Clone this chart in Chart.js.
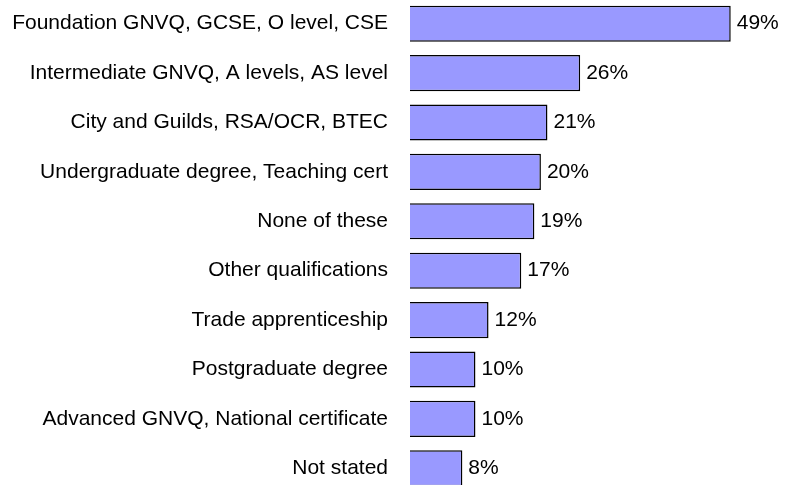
<!DOCTYPE html>
<html>
<head>
<meta charset="utf-8">
<script src="https://cdn.jsdelivr.net/npm/chart.js@4/dist/chart.umd.min.js"></script>
<style>
  html, body { margin: 0; padding: 0; background: #fff; overflow: hidden; }
  #qualChart { position: absolute; left: 0; top: -1px; }
</style>
</head>
<body>
<canvas id="qualChart" width="786" height="494"></canvas>
<script>
// Dados do gráfico
const categorias = [
    'Foundation GNVQ, GCSE, O level, CSE',
    'Intermediate GNVQ, A levels, AS level',
    'City and Guilds, RSA/OCR, BTEC',
    'Undergraduate degree, Teaching cert',
    'None of these',
    'Other qualifications',
    'Trade apprenticeship',
    'Postgraduate degree',
    'Advanced GNVQ, National certificate',
    'Not stated'
];
const percentuais = [49, 26, 21, 20, 19, 17, 12, 10, 10, 8];

const fonte = '"Liberation Sans", Arial, sans-serif';

// Rótulos de valor no fim de cada barra
const rotulosValor = {
    id: 'rotulosValor',
    afterDatasetsDraw(chart) {
        const ctx = chart.ctx;
        const meta = chart.getDatasetMeta(0);
        ctx.save();
        ctx.font = '21px ' + fonte;
        ctx.fillStyle = '#000';
        ctx.textAlign = 'left';
        ctx.textBaseline = 'middle';
        meta.data.forEach((bar, i) => {
            ctx.fillText(percentuais[i] + '%', bar.x + 6, bar.y);
        });
        ctx.restore();
    }
};

new Chart(document.getElementById('qualChart').getContext('2d'), {
    type: 'bar',
    data: {
        labels: categorias,
        datasets: [{
            data: percentuais,
            backgroundColor: '#9999FF',
            borderColor: '#000000',
            borderWidth: 1.5,
            barPercentage: 0.73,
            categoryPercentage: 1
        }]
    },
    options: {
        indexAxis: 'y',
        responsive: false,
        animation: false,
        layout: { padding: { left: 0, right: 16, top: 0, bottom: 0 } },
        scales: {
            x: {
                display: false,
                min: 0,
                max: 55
            },
            y: {
                grid: { display: false, drawTicks: false },
                border: { display: false },
                ticks: {
                    color: '#000',
                    padding: 22,
                    font: { family: fonte, size: 21 }
                },
                afterFit(scale) {
                    scale.width = 410;
                    // sem folga extra em cima e em baixo
                    scale.paddingTop = 0;
                    scale.paddingBottom = 0;
                }
            }
        },
        plugins: {
            legend: { display: false },
            tooltip: { enabled: false }
        }
    },
    plugins: [rotulosValor]
});
</script>
</body>
</html>
